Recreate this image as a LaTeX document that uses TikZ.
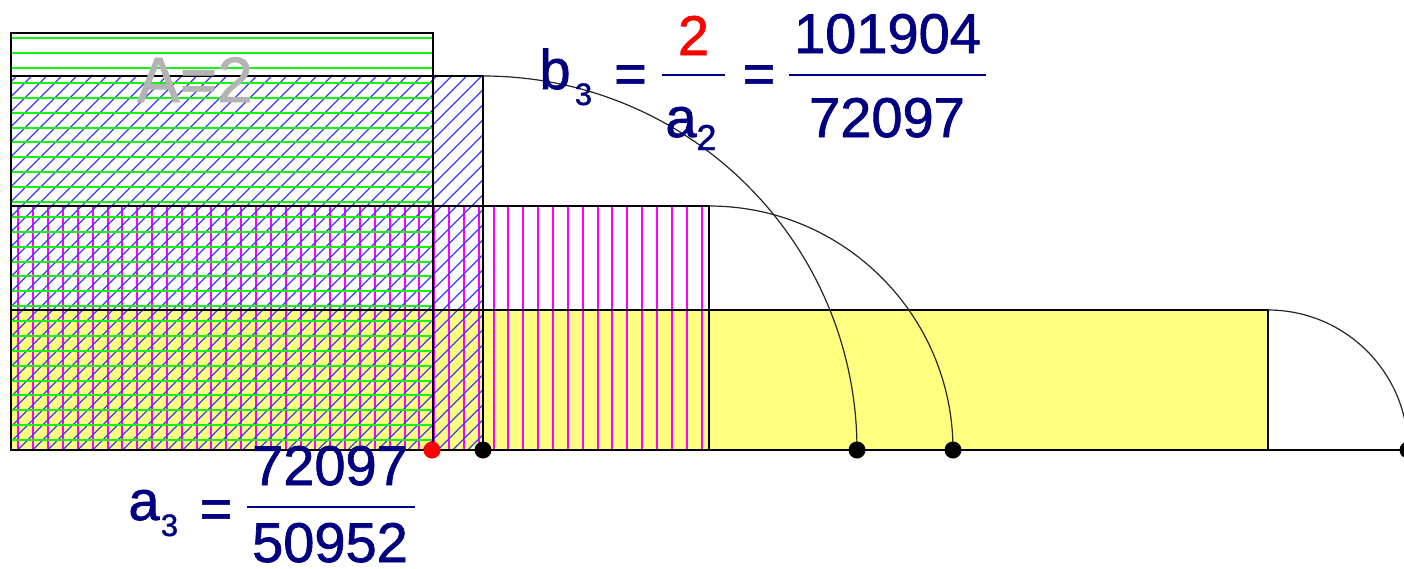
\documentclass[tikz,border=0pt]{standalone}
\usepackage{fontspec}
\setmainfont{Liberation Sans}
\newfontfamily\heavysans[FakeBold=1.2]{Liberation Sans}
\definecolor{navy}{RGB}{0,0,128}
\definecolor{hatchgreen}{RGB}{20,245,20}
\definecolor{hatchblue}{RGB}{60,60,255}
\definecolor{hatchmag}{RGB}{255,0,255}
\definecolor{yel}{RGB}{255,255,128}
\definecolor{lgray}{RGB}{180,180,180}
\begin{document}
\begin{tikzpicture}[x=1pt,y=-1pt,
  rectline/.style={black, line width=1.4pt},
  arcline/.style={black!85, line width=1.2pt},
  dot/.style={circle, fill=black, inner sep=0pt, minimum size=17pt},
  reddot/.style={dot, fill=red},
  gline/.style={hatchgreen, line width=2pt},
  bline/.style={hatchblue, line width=1.3pt},
  mline/.style={hatchmag, line width=2pt},
  bigtxt/.style={font=\heavysans\fontsize{56}{60}\selectfont, text=navy, inner sep=0pt, anchor=base},
  subtxt/.style={font=\heavysans\fontsize{31}{34}\selectfont, text=navy, inner sep=0pt, anchor=base},
  fracbar/.style={navy, line width=2.8pt}]
\useasboundingbox (0,0) rectangle (1404,568);
\fill[white] (0,0) rectangle (1404,568);
% yellow rectangle
\fill[yel] (11,310) rectangle (1268,450);
% magenta vertical hatch
\begin{scope}
  \clip (11,206) rectangle (709,450);
  \foreach \k in {0,...,46} \draw[mline] ({18.4+14.85*\k},206) -- ++(0,244);
\end{scope}
% blue diagonal hatch
\begin{scope}
  \clip (11,76) rectangle (483,450);
  \foreach \k in {5,...,63} \draw[bline] ({2.7+15*\k-450},450) -- ({2.7+15*\k-76},76);
\end{scope}
% green horizontal hatch
\foreach \k in {0,...,27} \draw[gline] (11,{38.3+14.88*\k}) -- (433,{38.3+14.88*\k});
% borders
\draw[rectline] (11,33) rectangle (433,450);
\draw[rectline] (11,76) rectangle (483,450);
\draw[rectline] (11,206) rectangle (709,450);
\draw[rectline] (11,310) rectangle (1268,450);
\draw[rectline] (11,450) -- (1410,450);
% arcs
\draw[arcline] (483,76) arc[start angle=90,end angle=0,radius=374pt];
\draw[arcline] (709,206) arc[start angle=90,end angle=0,radius=244pt];
\draw[arcline] (1268,310) arc[start angle=90,end angle=0,radius=140pt];
% dots
\node[reddot] (r0) at (432,450) {};
\node[dot] (d1) at (483,450) {};
\node[dot] (d2) at (857,450) {};
\node[dot] (d3) at (953,450) {};
\node[dot] (d4) at (1408,450) {};
% A=2
\node[font=\heavysans\fontsize{64}{70}\selectfont, text=lgray, inner sep=0pt, anchor=base] (A) at (195,102) {A=2};
% b3 formula
\node[bigtxt] (b) at (555,89) {b};
\node[subtxt] (b3) at (583.5,105) {3};
\node[bigtxt] (eq1) at (630.5,93) {=};
\node[bigtxt, text=red] (two) at (693.5,55) {2};
\draw[fracbar] (662,75) -- (725,75);
\node[bigtxt] (a) at (681,137) {a};
\node[subtxt, font=\heavysans\fontsize{36}{40}\selectfont] (a2) at (706.5,150) {2};
\node[bigtxt] (eq2) at (759,93) {=};
\draw[fracbar] (789,75) -- (986,75);
\node[bigtxt] (num1) at (887.5,53) {101904};
\node[bigtxt] (den1) at (887,137) {72097};
% a3 formula
\node[bigtxt] (aa) at (144,520) {a};
\node[subtxt] (aa3) at (169.5,536) {3};
\node[bigtxt] (eq3) at (216,528) {=};
\draw[fracbar] (247,507) -- (415,507);
\node[bigtxt] (num2) at (330,485) {72097};
\node[bigtxt] (den2) at (330,562) {50952};
\end{tikzpicture}
\end{document}
